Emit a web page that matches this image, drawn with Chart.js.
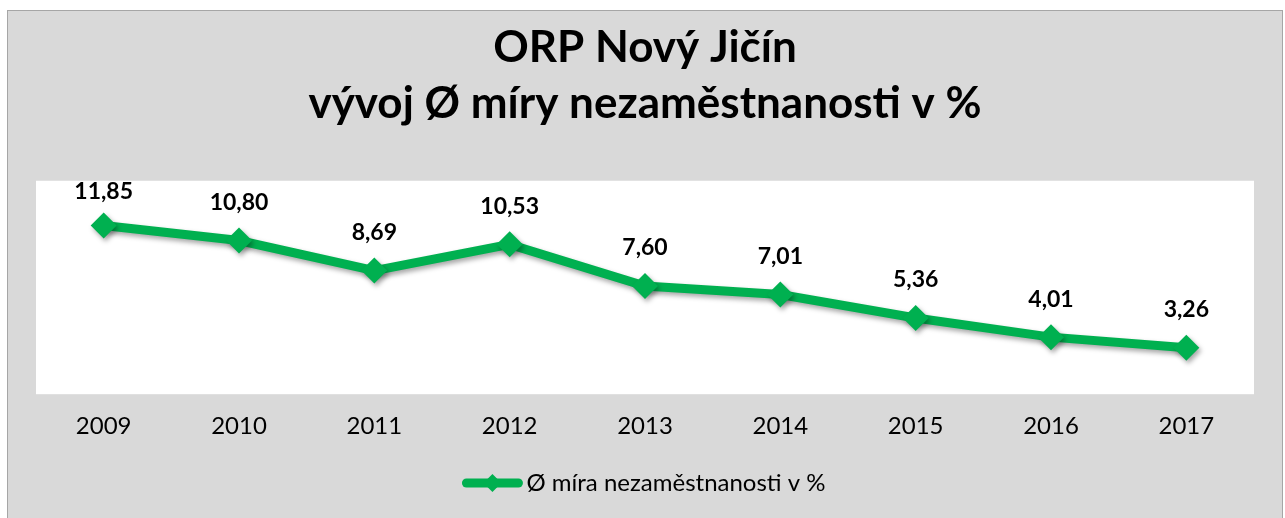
<!DOCTYPE html>
<html>
<head>
<meta charset="utf-8">
<script src="https://cdn.jsdelivr.net/npm/chart.js@4"></script>
<style>
  body { margin: 0; background: #ffffff; }
  #box {
    position: absolute; left: 7px; top: 10px; width: 1274px; height: 508px;
    background: #d9d9d9; border: 1px solid #a6a6a6; border-bottom: none;
  }
  #myChart { display: block; }
</style>
</head>
<body>
<div id="box"><canvas id="myChart" width="1274" height="508"></canvas></div>
<script>
// Données
const years = ['2009', '2010', '2011', '2012', '2013', '2014', '2015', '2016', '2017'];
const rates = [11.85, 10.80, 8.69, 10.53, 7.60, 7.01, 5.36, 4.01, 3.26];
const seriesName = 'Ø míra nezaměstnanosti v %';
const titleLines = ['ORP Nový Jičín', 'vývoj Ø míry nezaměstnanosti v %'];

const green = '#00b050';
const fontFamily = 'Lato, "Open Sans", sans-serif';

// fond blanc de la zone de tracé
const plotBackground = {
    id: 'plotBackground',
    beforeDraw(chart) {
        const a = chart.chartArea;
        const ctx = chart.ctx;
        ctx.save();
        ctx.fillStyle = '#ffffff';
        ctx.fillRect(a.left, a.top, a.right - a.left, a.bottom - a.top);
        ctx.restore();
    }
};

// ombre légère sous la ligne
const lineShadow = {
    id: 'lineShadow',
    beforeDatasetsDraw(chart) {
        const ctx = chart.ctx;
        ctx.save();
        ctx.shadowColor = 'rgba(0,0,0,0.35)';
        ctx.shadowBlur = 5;
        ctx.shadowOffsetX = 2;
        ctx.shadowOffsetY = 3;
    },
    afterDatasetsDraw(chart) {
        chart.ctx.restore();
    }
};

// étiquettes de valeurs au-dessus des points (gardées dans la zone blanche)
const valueLabels = {
    id: 'valueLabels',
    afterDatasetsDraw(chart) {
        const ctx = chart.ctx;
        const meta = chart.getDatasetMeta(0);
        const top = chart.chartArea.top;
        ctx.save();
        ctx.font = 'bold 23px ' + fontFamily;
        ctx.fillStyle = '#000000';
        ctx.textAlign = 'center';
        ctx.textBaseline = 'middle';
        meta.data.forEach((pt, i) => {
            const txt = rates[i].toFixed(2).replace('.', ',');
            ctx.fillText(txt, pt.x, Math.max(pt.y - 38, top + 11));
        });
        ctx.restore();
    }
};

// trait + losange dans la légende
const legendMarker = {
    id: 'legendMarker',
    afterDraw(chart) {
        const lg = chart.legend;
        if (!lg || !lg.legendHitBoxes || !lg.legendHitBoxes.length) return;
        const box = lg.legendHitBoxes[0];
        const ctx = chart.ctx;
        const x0 = box.left + 2;
        const x1 = box.left + 54;
        const cx = (x0 + x1) / 2;
        const cy = box.top + box.height / 2;
        ctx.save();
        ctx.strokeStyle = green;
        ctx.lineWidth = 9;
        ctx.lineCap = 'round';
        ctx.beginPath();
        ctx.moveTo(x0, cy);
        ctx.lineTo(x1, cy);
        ctx.stroke();
        ctx.fillStyle = green;
        ctx.beginPath();
        ctx.moveTo(cx, cy - 9);
        ctx.lineTo(cx + 9, cy);
        ctx.lineTo(cx, cy + 9);
        ctx.lineTo(cx - 9, cy);
        ctx.closePath();
        ctx.fill();
        ctx.restore();
    }
};

const config = {
    type: 'line',
    data: {
        labels: years,
        datasets: [{
            label: seriesName,
            data: rates,
            borderColor: green,
            backgroundColor: green,
            borderWidth: 9,
            pointStyle: 'rectRot',
            pointRadius: 13,
            pointHoverRadius: 13,
            pointBackgroundColor: green,
            pointBorderColor: green,
            pointBorderWidth: 0,
            tension: 0,
        }]
    },
    options: {
        responsive: false,
        animation: false,
        layout: {
            padding: { left: 28, right: 28, top: 0, bottom: 14 }
        },
        scales: {
            x: {
                offset: true,
                grid: { display: false },
                border: { display: false },
                ticks: {
                    color: '#000000',
                    padding: 10,
                    font: { family: fontFamily, size: 24 }
                }
            },
            y: {
                display: false,
                min: 0,
                max: 15
            }
        },
        plugins: {
            title: {
                display: true,
                text: titleLines,
                color: '#000000',
                font: { family: fontFamily, size: 44, weight: 'bold', lineHeight: 1.27 },
                padding: { top: 9, bottom: 49 }
            },
            legend: {
                position: 'bottom',
                labels: {
                    color: '#000000',
                    font: { family: fontFamily, size: 24 },
                    usePointStyle: true,
                    pointStyle: 'line',
                    pointStyleWidth: 50,
                    padding: 20
                }
            },
            tooltip: { enabled: false }
        }
    },
    plugins: [plotBackground, lineShadow, valueLabels, legendMarker]
};

var myChart = new Chart(document.getElementById('myChart'), config);
</script>
</body>
</html>
